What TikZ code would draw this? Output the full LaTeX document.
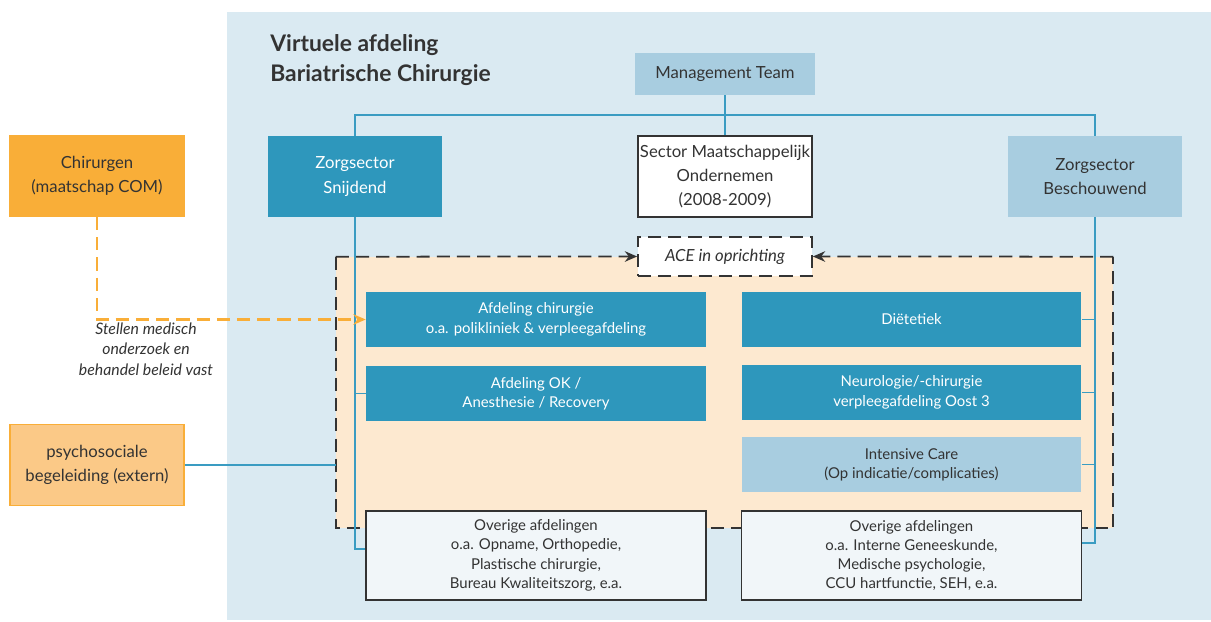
\documentclass[tikz,border=0pt]{standalone}
\usepackage{fontspec}
\setmainfont{Lato}
\usepackage{xcolor}
\usepackage{tikz}
\usetikzlibrary{shapes,arrows,arrows.meta,positioning,calc}

\definecolor{bgblue}{HTML}{DAEAF2}
\definecolor{deptteal}{HTML}{2E97BC}
\definecolor{lightblue}{HTML}{A8CDE0}
\definecolor{peach}{HTML}{FDE9D0}
\definecolor{orangebox}{HTML}{F9AE38}
\definecolor{lightorange}{HTML}{FBC987}
\definecolor{paleblue}{HTML}{F1F6F9}
\definecolor{darkline}{HTML}{333333}
\definecolor{darktext}{HTML}{333333}
\definecolor{linkblue}{HTML}{3A9CC2}

\begin{document}
\begin{tikzpicture}[
        x=0.02cm, y=-0.02cm,
        % Define styles for the boxes and connectors
        box/.style={rectangle, align=center, inner sep=1pt, text=darktext, font=\fontsize{9.5}{13.8}\selectfont},
        sector/.style={box, minimum width=3.48cm, minimum height=1.62cm},
        dept/.style={rectangle, align=center, inner sep=1pt, minimum width=6.8cm, minimum height=1.1cm, font=\fontsize{8.5}{11}\selectfont},
        darkdept/.style={dept, fill=deptteal, text=white},
        lightdept/.style={dept, fill=lightblue, text=darktext},
        otherdept/.style={dept, draw=darkline, line width=1pt, fill=paleblue, text=darktext, minimum height=1.78cm},
        link/.style={draw=linkblue, line width=1.1pt},
        dashborder/.style={draw=darkline, line width=1pt, dash pattern=on 7.5pt off 4pt},
        dasharrow/.style={dashborder, ->, >={Stealth[length=7pt, width=6pt]}},
        orangearrow/.style={draw=orangebox, line width=1.3pt, dash pattern=on 7.5pt off 4pt, ->, >={Stealth[length=7pt, width=6pt]}}
      ]
      \useasboundingbox (0,0) rectangle (1211,622);

      % Background of the virtual department
      \fill[bgblue] (227,12) rectangle (1211,620);
      \node[font=\fontsize{13}{17}\selectfont\bfseries, text=darktext, align=left, anchor=west, inner sep=0] (title) at (270,60) {Virtuele afdeling\\Bariatrische Chirurgie};

      % Peach area with its dashed border
      \node[fill=peach, minimum width=15.54cm, minimum height=5.42cm, inner sep=0] (area) at (724.5,392.5) {};
      \draw[dashborder] (area.north west) -- (area.south west) -- (area.south east) -- (area.north east);
      \node[sector, draw=darkline, line width=1pt, dash pattern=on 7.5pt off 4pt, fill=white, minimum height=0.78cm, font=\fontsize{9.5}{13.8}\selectfont\itshape] (ace) at (725,256.5) {ACE in oprichting};
      \draw[dasharrow] (area.north west) -- (ace.west);
      \draw[dasharrow] (area.north east) -- (ace.east);

      % Management and the sectors
      \node[box, fill=lightblue, minimum width=3.6cm, minimum height=0.84cm] (mt) at (725,74) {Management Team};
      \node[sector, fill=deptteal, text=white] (snij) at (355,176.5) {Zorgsector\\Snijdend};
      \node[sector, draw=darkline, line width=1pt, fill=white] (smo) at (725,176.5) {Sector Maatschappelijk\\Ondernemen\\(2008-2009)};
      \node[sector, fill=lightblue] (besch) at (1095,176.5) {Zorgsector\\Beschouwend};

      % External parties
      \node[sector, fill=orangebox, draw=orangebox, line width=0.6pt] (chir) at (97,176) {Chirurgen\\(maatschap COM)};
      \node[sector, fill=lightorange, draw=orangebox, line width=0.6pt] (psy) at (97,465) {psychosociale\\begeleiding (extern)};

      % Departments
      \node[darkdept] (chirafd) at (536,319.5) {Afdeling chirurgie\\o.a. polikliniek \& verpleegafdeling};
      \node[darkdept] (okafd) at (536,393.5) {Afdeling OK /\\Anesthesie / Recovery};
      \node[darkdept] (diet) at (911.5,319.5) {Diëtetiek};
      \node[darkdept] (neuro) at (911.5,392.5) {Neurologie/-chirurgie\\verpleegafdeling Oost 3};
      \node[lightdept] (ic) at (911.5,464.5) {Intensive Care\\(Op indicatie/complicaties)};
      \node[otherdept] (overL) at (536,555.5) {Overige afdelingen\\o.a. Opname, Orthopedie,\\Plastische chirurgie,\\Bureau Kwaliteitszorg, e.a.};
      \node[otherdept] (overR) at (911.5,555.5) {Overige afdelingen\\o.a. Interne Geneeskunde,\\Medische psychologie,\\CCU hartfunctie, SEH, e.a.};

      % Connectors of the organisation
      \draw[link] (mt.south) -- (smo.north);
      \draw[link] (snij.north) |- ($(mt.south)!0.5!(smo.north)$) -| (besch.north);
      \draw[link] (snij.south) |- ([yshift=3.5pt]overL.west);
      \draw[link] (okafd.west) -- (okafd.west -| snij.south);
      \draw[link] (besch.south) |- ([yshift=7pt]overR.east);
      \foreach \dept in {diet, neuro, ic} {
        \draw[link] (\dept.east) -- (\dept.east -| besch.south);
      }
      \draw[link] (psy.east) -- (psy.east -| area.west);

      % Surgeons set the policy
      \draw[orangearrow] (chir.south) |- (chirafd.west);
      \node[align=center, text=darktext, font=\fontsize{9}{11.8}\selectfont\itshape] (note) at (146,349) {Stellen medisch\\onderzoek en\\behandel beleid vast};

    \end{tikzpicture}
\end{document}
